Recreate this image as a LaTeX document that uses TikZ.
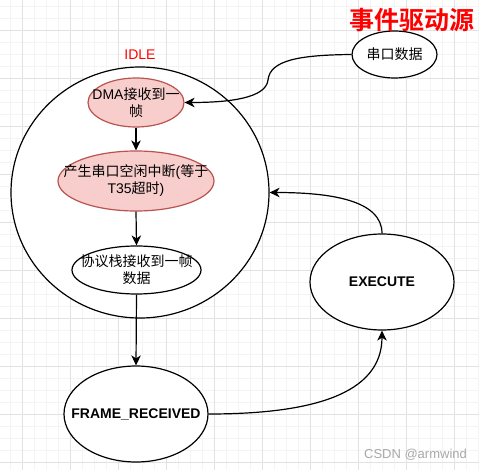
\documentclass[tikz,border=0pt]{standalone}
\usepackage{fontspec}
\setmainfont{Liberation Sans}
\newfontfamily\cjk{Noto Sans CJK SC}[BoldFont={Noto Sans CJK SC Bold}]
\usetikzlibrary{shapes.geometric,arrows.meta}
\definecolor{pinkfill}{HTML}{F8CECC}
\definecolor{pinkline}{HTML}{B85450}
\definecolor{gridmajor}{HTML}{E2E2E2}
\definecolor{gridminor}{HTML}{F4F4F4}
\definecolor{wmark}{HTML}{A8A8A8}
\begin{document}
\begin{tikzpicture}[x=1pt,y=-1pt,
  st/.style={ellipse,draw,line width=1.2pt,inner sep=0pt,fill=white},
  pinkst/.style={st,draw=pinkline,fill=pinkfill},
  lbl/.style={font=\fontsize{14}{17}\selectfont,align=center,inner sep=0pt},
  conn/.style={line width=1.2pt,-{Stealth[length=10pt,width=9.5pt,inset=3pt]}}]
\useasboundingbox (0,0) rectangle (479,470);
\fill[white] (0,0) rectangle (479,470);
% grid
\foreach \x in {10,22,...,478} \draw[gridminor,line width=0.8pt] (\x,0) -- (\x,470);
\foreach \y in {6,18,...,470} \draw[gridminor,line width=0.8pt] (0,\y) -- (479,\y);
\foreach \x in {22,70,...,478} \draw[gridmajor,line width=0.8pt] (\x,0) -- (\x,470);
\foreach \y in {30,78,...,470} \draw[gridmajor,line width=0.8pt] (0,\y) -- (479,\y);

% nodes
\node[st,minimum width=258pt,minimum height=251pt] (idle) at (140,192.5) {};
\node[font=\fontsize{14}{17}\selectfont,text=red,inner sep=0pt] (idlelbl) at (140,55) {IDLE};
\node[pinkst,minimum width=96pt,minimum height=49pt,
  label={[lbl]center:DMA{\cjk 接收到一}\\{\cjk 帧}}] (dma) at (136,102.5) {};
\node[pinkst,minimum width=156pt,minimum height=60pt,
  label={[lbl]center:{\cjk 产生串口空闲中断}({\cjk 等于}\\T35{\cjk 超时})}] (idleint) at (136,181) {};
\node[st,minimum width=129pt,minimum height=48pt,
  label={[lbl]center:{\cjk 协议栈接收到一帧}\\{\cjk 数据}}] (stack) at (136.5,270) {};
\node[st,minimum width=144pt,minimum height=96pt,
  label={[lbl,font=\fontsize{14}{17}\selectfont\bfseries]center:FRAME\_RECEIVED}] (frame) at (136,414) {};
\node[st,minimum width=144pt,minimum height=96pt,
  label={[lbl,font=\fontsize{14}{17}\selectfont\bfseries]center:EXECUTE}] (exec) at (382,282) {};
\node[st,minimum width=85pt,minimum height=47pt,
  label={[lbl]center:{\cjk 串口数据}}] (src) at (394.5,54.5) {};
\node[font=\cjk\bfseries\fontsize{25}{25}\selectfont,text=red,inner sep=0pt] (title) at (412,20) {事件驱动源};
\node[font=\fontsize{13}{13}\selectfont,text=wmark,inner sep=0pt] (wm) at (415.5,455) {CSDN @armwind};

% connectors
\draw[conn] (src.west) .. controls (300,55) and (270,60) .. (268,80)
  .. controls (266,98) and (230,102.5) .. (dma.east);
\draw[conn] (dma.south) -- (idleint.north);
\draw[conn] (idleint.south) -- (stack.north);
\draw[conn] (stack.south) -- (frame.north);
\draw[conn] (frame.east) .. controls (310,414) and (382,395) .. (exec.south);
\draw[conn] (exec.north) .. controls (382,200) and (330,192.5) .. (idle.east);
\end{tikzpicture}
\end{document}
